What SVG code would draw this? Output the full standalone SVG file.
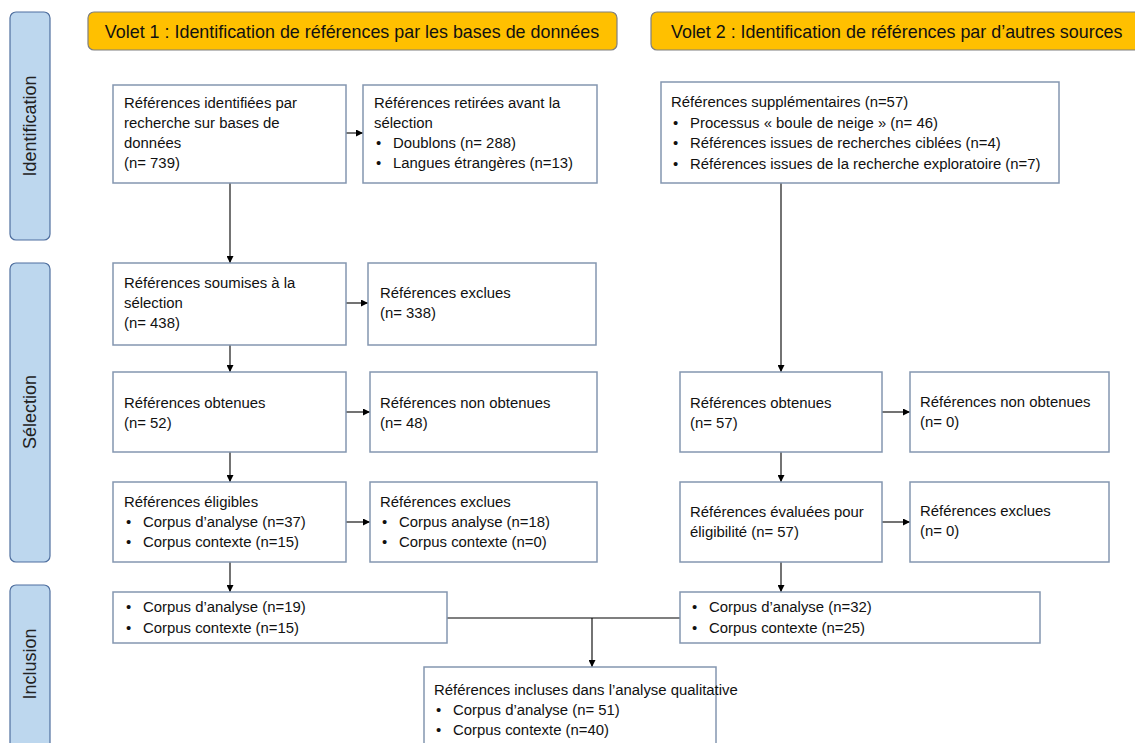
<svg xmlns="http://www.w3.org/2000/svg" width="1135" height="743" viewBox="0 0 1135 743">
  <style>
    .phase { fill: #bdd7ee; stroke: #4f6f9f; stroke-width: 1.2; }
    .phase-label { font-family: "Liberation Sans", Arial, sans-serif; font-size: 18px; fill: #222; text-anchor: middle; }
    .header { fill: #ffc000; stroke: #7f7f7f; stroke-width: 1.2; }
    .header-text { font-family: "Liberation Sans", Arial, sans-serif; font-size: 17.9px; fill: #111; }
    .box { fill: #ffffff; stroke: #8496b0; stroke-width: 1.5; }
    .t { font-family: "Liberation Sans", Arial, sans-serif; font-size: 14.9px; fill: #111; }
    .conn { stroke: #000; stroke-width: 1.1; fill: none; }
  </style>
  <defs>
    <marker id="arrow" viewBox="0 0 10 10" refX="10" refY="5" markerWidth="7" markerHeight="7" markerUnits="userSpaceOnUse" orient="auto">
      <path d="M0,0 L10,5 L0,10 z" fill="#000"/>
    </marker>
  </defs>

  <rect width="1135" height="743" fill="#ffffff"/>

  <!-- Phase bars -->
  <g id="phase-identification">
    <rect class="phase" x="10" y="12" width="40" height="228" rx="6"/>
    <text class="phase-label" transform="translate(36,126) rotate(-90)">Identification</text>
  </g>
  <g id="phase-selection">
    <rect class="phase" x="10" y="263" width="40" height="299" rx="6"/>
    <text class="phase-label" transform="translate(36,412) rotate(-90)">Sélection</text>
  </g>
  <g id="phase-inclusion">
    <rect class="phase" x="10" y="585" width="40" height="170" rx="6"/>
    <text class="phase-label" transform="translate(36,664) rotate(-90)">Inclusion</text>
  </g>

  <!-- Headers -->
  <g id="volet1">
    <rect class="header" x="88" y="12" width="529" height="38" rx="6"/>
    <text class="header-text" x="352" y="38" text-anchor="middle">Volet 1 : Identification de références par les bases de données</text>
  </g>
  <g id="volet2">
    <rect class="header" x="651" y="12" width="500" height="38" rx="6"/>
    <text class="header-text" x="671" y="38">Volet 2 : Identification de références par d’autres sources</text>
  </g>

  <!-- Connectors -->
  <g id="connectors">
    <line class="conn" x1="346" y1="133" x2="363" y2="133" marker-end="url(#arrow)"/>
    <line class="conn" x1="230" y1="183" x2="230" y2="263" marker-end="url(#arrow)"/>
    <line class="conn" x1="346" y1="303" x2="368" y2="303" marker-end="url(#arrow)"/>
    <line class="conn" x1="230" y1="345" x2="230" y2="372" marker-end="url(#arrow)"/>
    <line class="conn" x1="346" y1="412" x2="370" y2="412" marker-end="url(#arrow)"/>
    <line class="conn" x1="230" y1="452" x2="230" y2="482" marker-end="url(#arrow)"/>
    <line class="conn" x1="346" y1="522" x2="370" y2="522" marker-end="url(#arrow)"/>
    <line class="conn" x1="230" y1="562" x2="230" y2="592" marker-end="url(#arrow)"/>

    <line class="conn" x1="781" y1="183" x2="781" y2="372" marker-end="url(#arrow)"/>
    <line class="conn" x1="882" y1="412" x2="910" y2="412" marker-end="url(#arrow)"/>
    <line class="conn" x1="781" y1="452" x2="781" y2="482" marker-end="url(#arrow)"/>
    <line class="conn" x1="882" y1="522" x2="910" y2="522" marker-end="url(#arrow)"/>
    <line class="conn" x1="781" y1="562" x2="781" y2="592" marker-end="url(#arrow)"/>

    <line class="conn" x1="447" y1="618" x2="680" y2="618"/>
    <line class="conn" x1="592" y1="618" x2="592" y2="667" marker-end="url(#arrow)"/>
  </g>

  <!-- Volet 1 column -->
  <g id="n-identifiees">
    <rect class="box" x="113" y="85" width="233" height="98"/>
    <text class="t" x="124" y="108">Références identifiées par</text>
    <text class="t" x="124" y="128">recherche sur bases de</text>
    <text class="t" x="124" y="148">données</text>
    <text class="t" x="124" y="168">(n= 739)</text>
  </g>
  <g id="n-retirees">
    <rect class="box" x="363" y="85" width="234" height="98"/>
    <text class="t" x="374" y="108">Références retirées avant la</text>
    <text class="t" x="374" y="128">sélection</text>
    <text class="t" x="376" y="148">•</text>
    <text class="t" x="393" y="148">Doublons (n= 288)</text>
    <text class="t" x="376" y="168">•</text>
    <text class="t" x="393" y="168">Langues étrangères (n=13)</text>
  </g>
  <g id="n-soumises">
    <rect class="box" x="113" y="263" width="233" height="82"/>
    <text class="t" x="124" y="288">Références soumises à la</text>
    <text class="t" x="124" y="308">sélection</text>
    <text class="t" x="124" y="328">(n= 438)</text>
  </g>
  <g id="n-exclues1">
    <rect class="box" x="368" y="263" width="228" height="82"/>
    <text class="t" x="380" y="298">Références exclues</text>
    <text class="t" x="380" y="318">(n= 338)</text>
  </g>
  <g id="n-obtenues1">
    <rect class="box" x="113" y="372" width="233" height="80"/>
    <text class="t" x="124" y="408">Références obtenues</text>
    <text class="t" x="124" y="428">(n= 52)</text>
  </g>
  <g id="n-nonobtenues1">
    <rect class="box" x="370" y="372" width="227" height="80"/>
    <text class="t" x="380" y="408">Références non obtenues</text>
    <text class="t" x="380" y="428">(n= 48)</text>
  </g>
  <g id="n-eligibles">
    <rect class="box" x="113" y="482" width="233" height="80"/>
    <text class="t" x="124" y="507">Références éligibles</text>
    <text class="t" x="126" y="527">•</text>
    <text class="t" x="143" y="527">Corpus d’analyse (n=37)</text>
    <text class="t" x="126" y="547">•</text>
    <text class="t" x="143" y="547">Corpus contexte (n=15)</text>
  </g>
  <g id="n-exclues2">
    <rect class="box" x="370" y="482" width="227" height="80"/>
    <text class="t" x="380" y="507">Références exclues</text>
    <text class="t" x="382" y="527">•</text>
    <text class="t" x="399" y="527">Corpus analyse (n=18)</text>
    <text class="t" x="382" y="547">•</text>
    <text class="t" x="399" y="547">Corpus contexte (n=0)</text>
  </g>
  <g id="n-inclus1">
    <rect class="box" x="113" y="592" width="334" height="51"/>
    <text class="t" x="126" y="612">•</text>
    <text class="t" x="143" y="612">Corpus d’analyse (n=19)</text>
    <text class="t" x="126" y="633">•</text>
    <text class="t" x="143" y="633">Corpus contexte (n=15)</text>
  </g>

  <!-- Volet 2 column -->
  <g id="n-supplementaires">
    <rect class="box" x="661" y="82" width="398" height="101"/>
    <text class="t" x="671" y="107">Références supplémentaires (n=57)</text>
    <text class="t" x="673" y="128">•</text>
    <text class="t" x="690" y="128">Processus « boule de neige » (n= 46)</text>
    <text class="t" x="673" y="148">•</text>
    <text class="t" x="690" y="148">Références issues de recherches ciblées (n=4)</text>
    <text class="t" x="673" y="169">•</text>
    <text class="t" x="690" y="169">Références issues de la recherche exploratoire (n=7)</text>
  </g>
  <g id="n-obtenues2">
    <rect class="box" x="680" y="372" width="202" height="80"/>
    <text class="t" x="690" y="408">Références obtenues</text>
    <text class="t" x="690" y="428">(n= 57)</text>
  </g>
  <g id="n-nonobtenues2">
    <rect class="box" x="910" y="372" width="199" height="80"/>
    <text class="t" x="920" y="407">Références non obtenues</text>
    <text class="t" x="920" y="427">(n= 0)</text>
  </g>
  <g id="n-evaluees">
    <rect class="box" x="680" y="482" width="202" height="80"/>
    <text class="t" x="690" y="517">Références évaluées pour</text>
    <text class="t" x="690" y="537">éligibilité (n= 57)</text>
  </g>
  <g id="n-exclues3">
    <rect class="box" x="910" y="482" width="199" height="80"/>
    <text class="t" x="920" y="516">Références exclues</text>
    <text class="t" x="920" y="536">(n= 0)</text>
  </g>
  <g id="n-inclus2">
    <rect class="box" x="680" y="592" width="360" height="51"/>
    <text class="t" x="692" y="612">•</text>
    <text class="t" x="709" y="612">Corpus d’analyse (n=32)</text>
    <text class="t" x="692" y="633">•</text>
    <text class="t" x="709" y="633">Corpus contexte (n=25)</text>
  </g>

  <!-- Final synthesis -->
  <g id="n-analyse-qualitative">
    <rect class="box" x="424" y="667" width="292" height="90"/>
    <text class="t" x="434" y="695">Références incluses dans l’analyse qualitative</text>
    <text class="t" x="436" y="715">•</text>
    <text class="t" x="453" y="715">Corpus d’analyse (n= 51)</text>
    <text class="t" x="436" y="735">•</text>
    <text class="t" x="453" y="735">Corpus contexte (n=40)</text>
  </g>
</svg>
